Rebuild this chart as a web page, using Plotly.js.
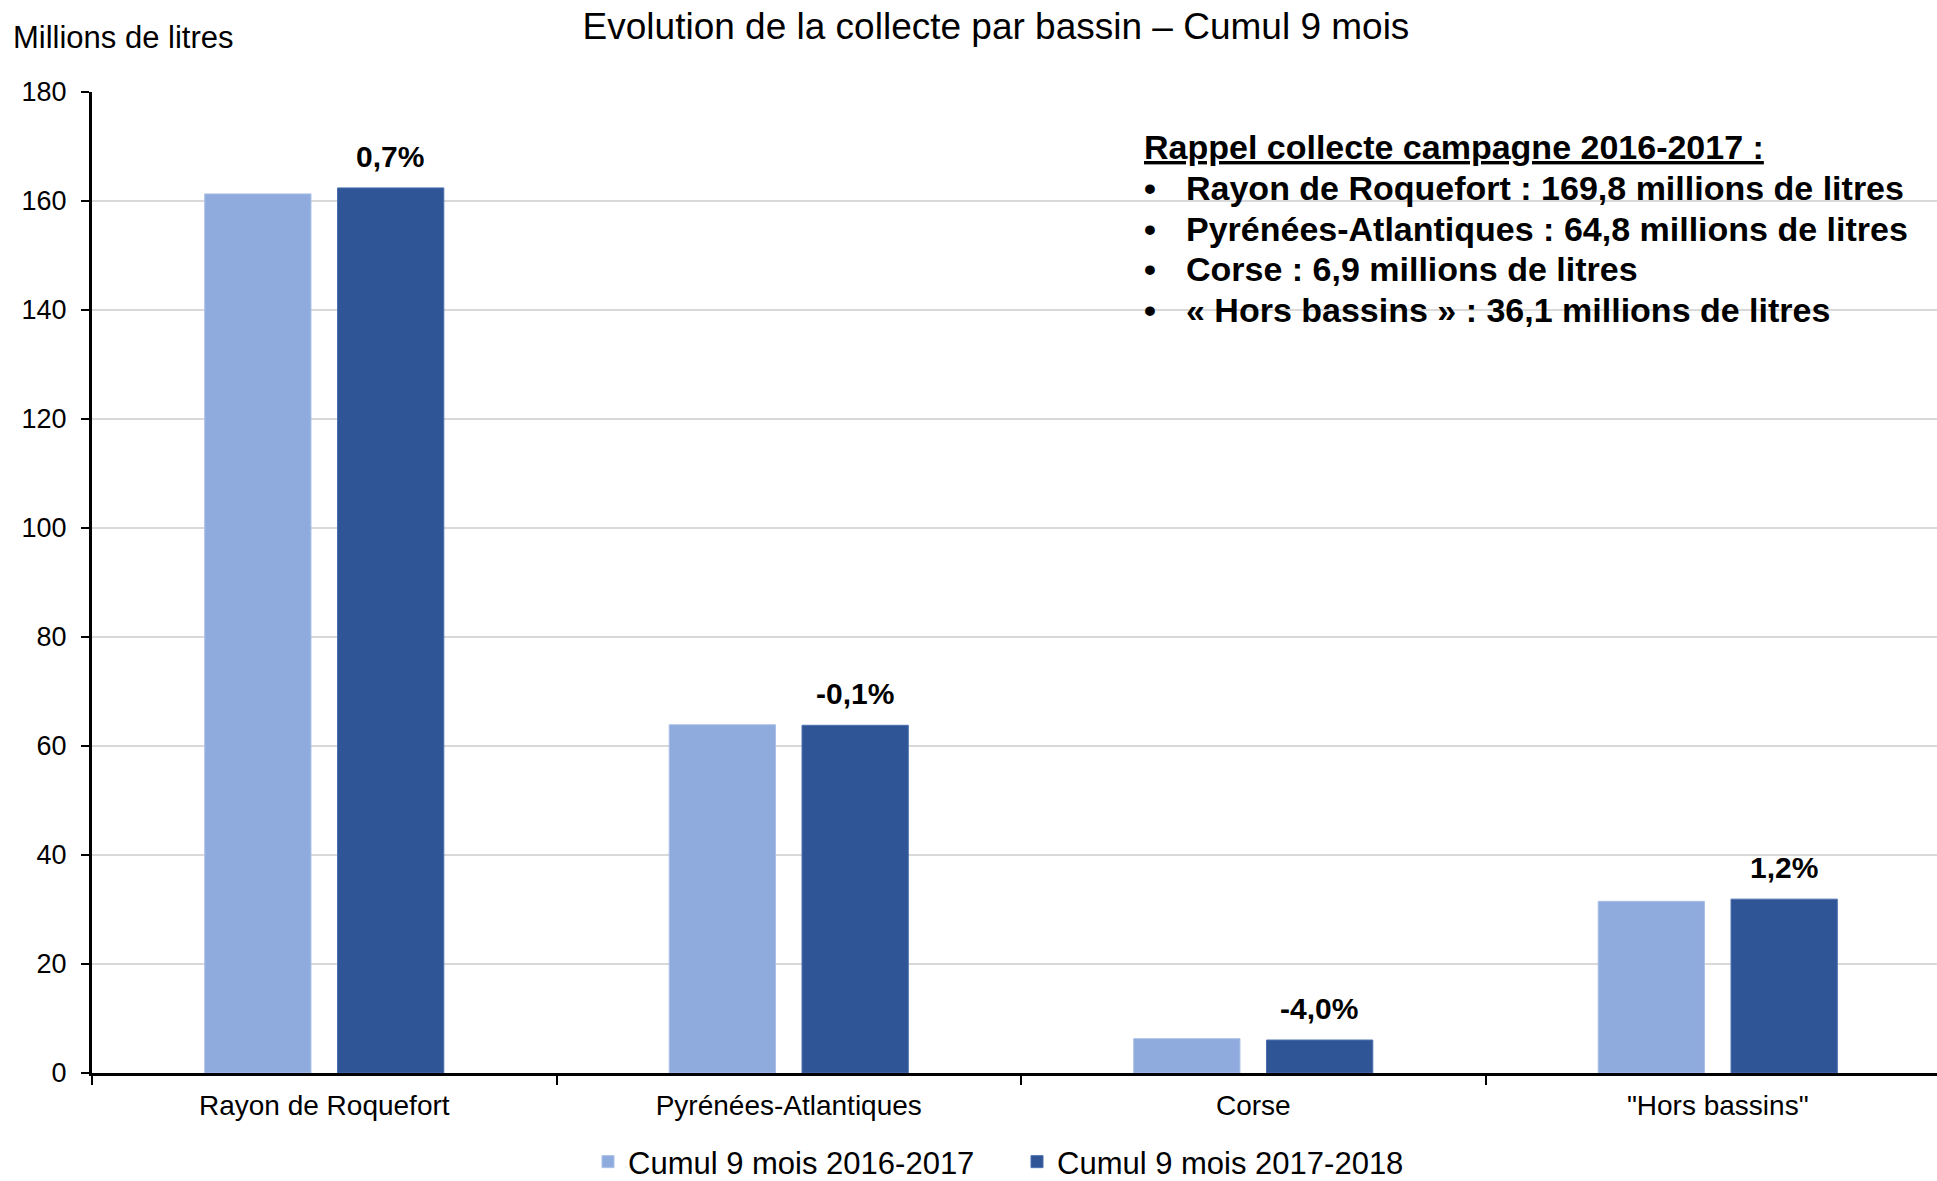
<!DOCTYPE html>
<html>
<head>
<meta charset="utf-8">
<script src="https://cdn.plot.ly/plotly-3.0.1.min.js"></script>
<style>html,body{margin:0;padding:0;background:#fff;}#chart{width:1937px;height:1181px;}</style>
</head>
<body>
<div id="chart"></div>
<script>
// ---- Data ----
const categories = ["Rayon de Roquefort", "Pyrénées-Atlantiques", "Corse", "\"Hors bassins\""];
const seriesNames = ["Cumul 9 mois 2016-2017", "Cumul 9 mois 2017-2018"];
const cumul2016_2017 = [161.3, 63.9, 6.3, 31.5];
const cumul2017_2018 = [162.4, 63.8, 6.05, 31.9];
const evolutionLabels = ["0,7%", "-0,1%", "-4,0%", "1,2%"];
const rappelTitle = "Rappel collecte campagne 2016-2017 :";
const rappelBassins = ["Rayon de Roquefort", "Pyrénées-Atlantiques", "Corse", "« Hors bassins »"];
const rappelValues = ["169,8", "64,8", "6,9", "36,1"];
const yTickValues = [0, 20, 40, 60, 80, 100, 120, 140, 160, 180];

const FONT = "Liberation Sans, Arial, sans-serif";
const W = 1937, H = 1181;
const M = {l: 92, r: 0, t: 92, b: 108};
const plotW = W - M.l - M.r, plotH = H - M.t - M.b;
const px2x = p => (p - M.l) / plotW;
const py2y = p => 1 - (p - M.t) / plotH;

const traces = [
  {type: "bar", name: seriesNames[0], x: categories, y: cumul2016_2017,
   marker: {color: "#8FAADC", line: {color: "#A9C0E8", width: 1}}, hoverinfo: "x+y"},
  {type: "bar", name: seriesNames[1], x: categories, y: cumul2017_2018,
   marker: {color: "#2F5597", line: {color: "#4A6FB0", width: 1}}, hoverinfo: "x+y"}
];

const annotations = [];
// evolution labels above the 2017-2018 bars
categories.forEach((c, i) => {
  annotations.push({xref: "x", yref: "y", x: c, y: cumul2017_2018[i], text: "<b>" + evolutionLabels[i] + "</b>",
    showarrow: false, xanchor: "center", yanchor: "bottom", xshift: 66, yshift: 13,
    font: {family: FONT, size: 30, color: "#000"}});
});
// y-axis unit label
annotations.push({xref: "paper", yref: "paper", x: px2x(11), y: py2y(38), xanchor: "left", yanchor: "middle",
  text: "Millions de litres", showarrow: false, font: {family: FONT, size: 31, color: "#000"}});
// rappel box
const boxLeft = 1142, textLeft = 1184, firstY = 147, lineStep = 40.8;
annotations.push({xref: "paper", yref: "paper", x: px2x(boxLeft), y: py2y(firstY), xanchor: "left", yanchor: "middle",
  text: "<b><u>" + rappelTitle + "</u></b>", showarrow: false, font: {family: FONT, size: 34, color: "#000"}});
rappelBassins.forEach((b, i) => {
  const yy = py2y(firstY + lineStep * (i + 1));
  annotations.push({xref: "paper", yref: "paper", x: px2x(boxLeft), y: yy, xanchor: "left", yanchor: "middle",
    text: "<b>•</b>", showarrow: false, font: {family: FONT, size: 34, color: "#000"}});
  annotations.push({xref: "paper", yref: "paper", x: px2x(textLeft), y: yy, xanchor: "left", yanchor: "middle",
    text: "<b>" + b + " : " + rappelValues[i] + " millions de litres</b>", showarrow: false,
    font: {family: FONT, size: 34, color: "#000"}});
});

const layout = {
  width: W, height: H,
  margin: M,
  paper_bgcolor: "#fff", plot_bgcolor: "#fff",
  font: {family: FONT, color: "#000"},
  title: {text: "Evolution de la collecte par bassin – Cumul 9 mois", x: 996 / W, xanchor: "center",
          y: 1 - 26 / H, yanchor: "middle", font: {family: FONT, size: 37, color: "#000"}},
  barmode: "group", bargap: 0.428, bargroupgap: 0.2,
  xaxis: {type: "category", range: [-0.5, -0.5 + plotW / 464.5], showline: true, linecolor: "#000", linewidth: 3,
          ticks: "outside", tickson: "boundaries", ticklen: 9, tickwidth: 2, tickcolor: "#000", ticklabelstandoff: 5,
          tickfont: {family: FONT, size: 28, color: "#000"}, showgrid: false, zeroline: false, fixedrange: true},
  yaxis: {range: [0, 180], tickvals: yTickValues, showgrid: true, gridcolor: "#D9D9D9", gridwidth: 2,
          showline: true, linecolor: "#000", linewidth: 3, ticks: "outside", ticklen: 8, tickwidth: 2, tickcolor: "#000",
          ticklabelstandoff: 9,
          tickfont: {family: FONT, size: 27, color: "#000"}, zeroline: false, fixedrange: true},
  legend: {orientation: "h", xref: "paper", x: px2x(1017), xanchor: "center", yref: "container", y: 1 - 1162 / H, yanchor: "middle",
           font: {family: FONT, size: 31, color: "#000"}, itemwidth: 30, entrywidth: 384, traceorder: "normal",
           bgcolor: "rgba(0,0,0,0)"},
  showlegend: true,
  annotations: annotations
};

Plotly.newPlot("chart", traces, layout, {displayModeBar: false, staticPlot: true});
</script>
</body>
</html>
